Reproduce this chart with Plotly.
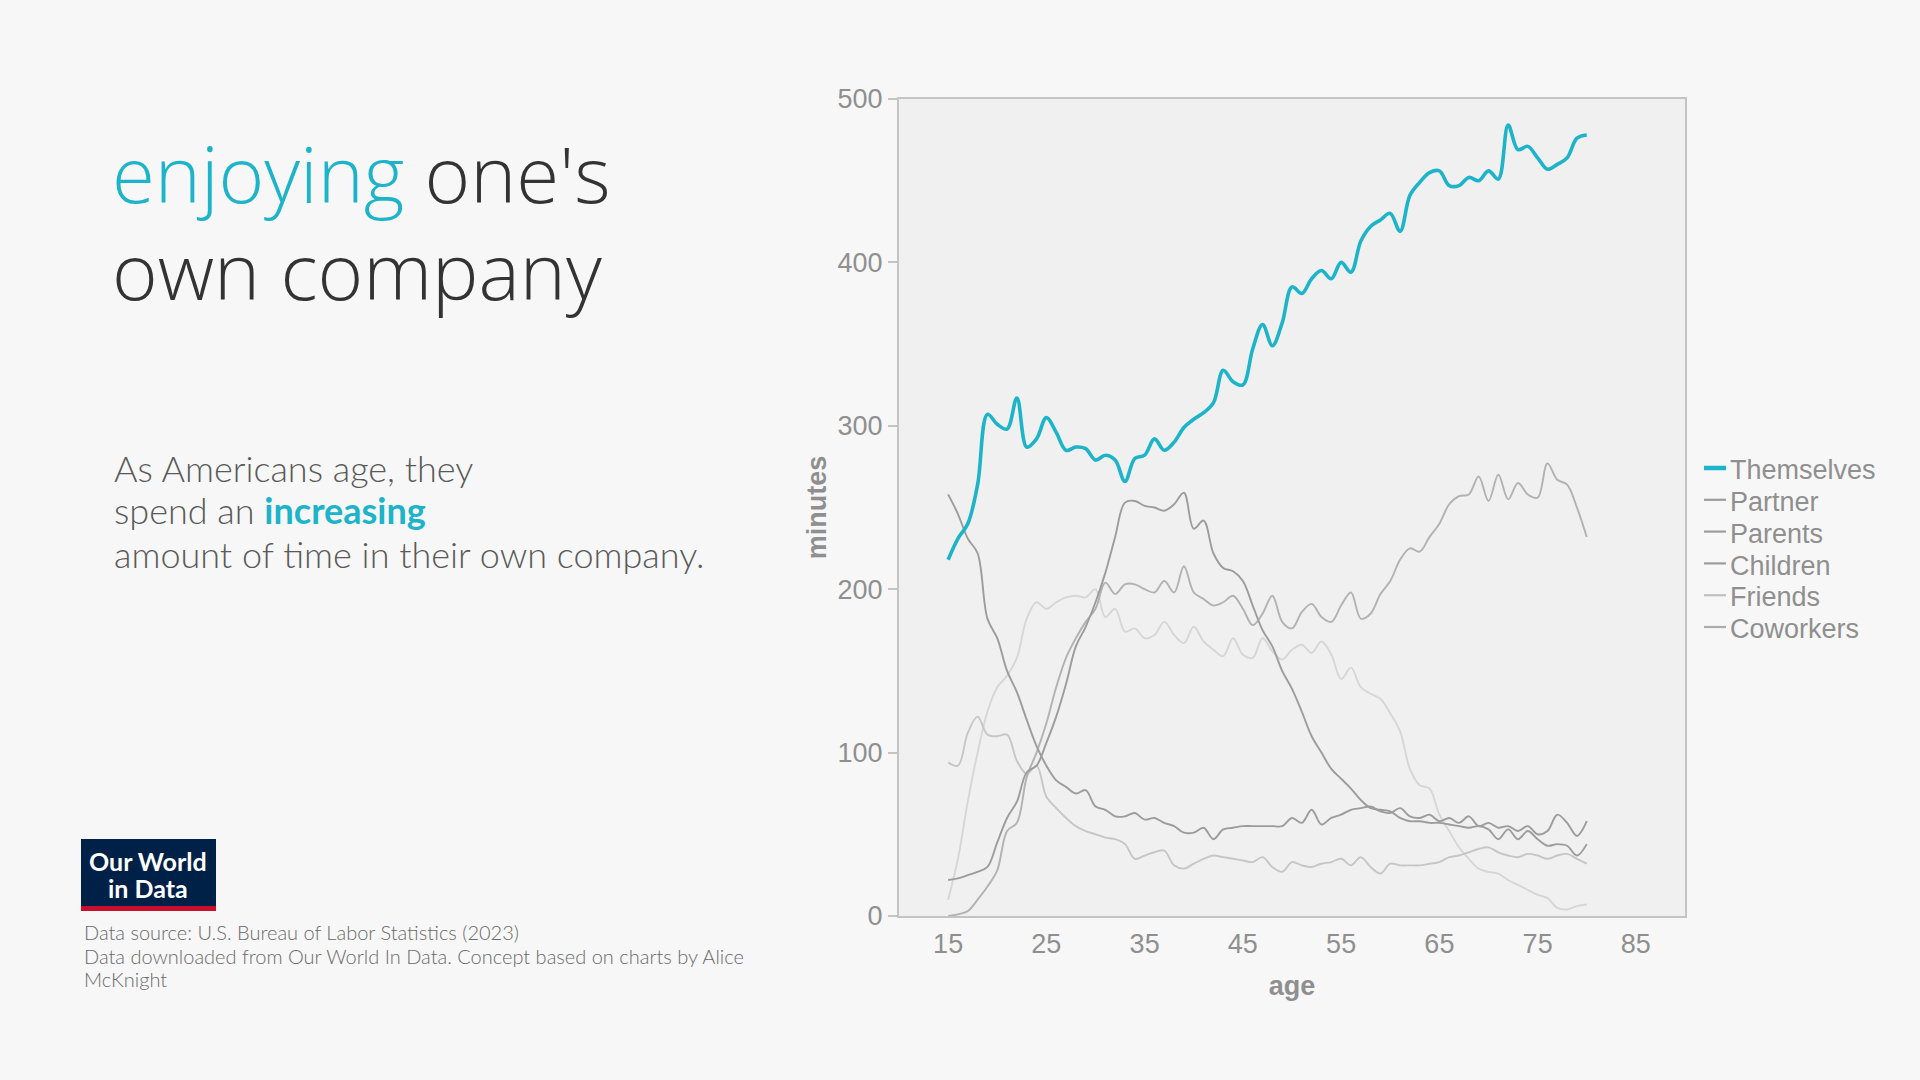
import plotly.graph_objects as go

# ---------------- data ----------------
ages = list(range(15, 81))

themselves = [218, 231, 240, 264, 307, 301, 298, 317, 287, 292,
              305, 296, 285, 287, 286, 279, 282, 279, 266, 280,
              282, 292, 285, 290, 299, 304, 308, 314, 334, 327,
              325, 347, 362, 349, 363, 385, 381, 390, 395, 390,
              400, 394, 413, 422, 426, 430, 419, 441, 449, 455,
              456, 447, 447, 452, 450, 456, 451, 484, 469, 471,
              464, 457, 460, 464, 476, 478]

partner = [0, 1, 3, 10, 18, 28, 52, 57, 85, 100,
           118, 140, 158, 170, 180, 188, 204, 197, 203, 203,
           200, 198, 205, 198, 214, 198, 194, 190, 192, 196,
           188, 178, 185, 196, 180, 176, 186, 191, 183, 180,
           190, 198, 182, 185, 197, 205, 218, 225, 223, 232,
           240, 252, 257, 258, 269, 254, 270, 255, 265, 258,
           256, 277, 267, 264, 250, 232]

parents = [258, 246, 231, 222, 182, 170, 150, 137, 120, 104,
           92, 83, 79, 75, 77, 67, 65, 61, 61, 63,
           59, 60, 57, 55, 51, 51, 54, 47, 53, 54,
           55, 55, 55, 55, 55, 60, 57, 65, 56, 60,
           62, 65, 66, 67, 64, 63, 66, 61, 60, 62,
           58, 60, 57, 61, 55, 57, 54, 55, 52, 55,
           50, 52, 62, 57, 49, 58]

children = [22, 23, 25, 27, 30, 45, 60, 70, 88, 92,
            106, 122, 142, 165, 177, 192, 210, 232, 253, 254,
            251, 250, 248, 252, 259, 237, 242, 222, 213, 211,
            205, 190, 175, 165, 150, 139, 125, 110, 100, 90,
            84, 78, 71, 66, 65, 64, 60, 58, 58, 57,
            57, 56, 55, 54, 55, 53, 47, 53, 47, 52,
            47, 43, 44, 43, 37, 44]

friends = [94, 92, 112, 122, 111, 110, 111, 95, 87, 92,
           73, 66, 60, 55, 52, 50, 48, 47, 44, 35,
           37, 39, 40, 31, 29, 32, 35, 37, 36, 35,
           34, 33, 36, 30, 27, 33, 31, 30, 32, 33,
           35, 31, 36, 30, 26, 32, 31, 31, 31, 32,
           33, 36, 37, 39, 41, 42, 39, 37, 36, 38,
           37, 35, 37, 38, 35, 32]

coworkers = [10, 35, 70, 100, 125, 140, 147, 158, 182, 192,
             188, 192, 195, 196, 195, 200, 183, 188, 174, 176,
             170, 172, 180, 172, 167, 177, 168, 163, 159, 170,
             160, 158, 170, 162, 157, 163, 166, 161, 168, 160,
             145, 152, 140, 136, 133, 124, 113, 90, 80, 78,
             62, 52, 42, 35, 29, 27, 26, 22, 19, 16,
             13, 11, 5, 4, 6, 7]

x_ticks = [15, 25, 35, 45, 55, 65, 75, 85]
y_ticks = [0, 100, 200, 300, 400, 500]

series_names = ["Themselves", "Partner", "Parents", "Children", "Friends", "Coworkers"]

# ---------------- style ----------------
TEAL = "#1db4c9"
W, H = 1920, 1080
ML, MR, MT, MB = 899, 235, 99, 164
PW, PH = W - ML - MR, H - MT - MB


def fx(px):
    return (px - ML) / PW


def fy(py):
    return (H - MB - py) / PH


gray_styles = {
    "Partner": ("#b2b2b2", partner),
    "Parents": ("#9c9c9c", parents),
    "Children": ("#9c9c9c", children),
    "Friends": ("#c6c6c6", friends),
    "Coworkers": ("#d6d6d6", coworkers),
}

fig = go.Figure()
for name in ["Coworkers", "Friends", "Partner", "Children", "Parents"]:
    col, vals = gray_styles[name]
    fig.add_trace(go.Scatter(x=ages, y=vals, mode="lines", name=name,
                             line=dict(color=col, width=1.9, shape="spline", smoothing=1.0),
                             showlegend=False))
fig.add_trace(go.Scatter(x=ages, y=themselves, mode="lines", name="Themselves",
                         line=dict(color=TEAL, width=3.6, shape="spline", smoothing=1.0),
                         showlegend=False))

AXFONT = "Liberation Sans, Arial, sans-serif"
AXCOL = "#8f8f8f"
axis_common = dict(showgrid=False, zeroline=False, showline=True, linecolor="#c4c4c4",
                   linewidth=2, mirror=True,
                   tickfont=dict(family=AXFONT, size=27, color=AXCOL))

fig.update_xaxes(range=[10, 90], tickvals=x_ticks, ticks="outside", ticklen=3,
                 tickcolor="rgba(0,0,0,0)",
                 title=dict(text="<b>age</b>", font=dict(family=AXFONT, size=27, color=AXCOL),
                            standoff=18),
                 **axis_common)
fig.update_yaxes(range=[0, 500], tickvals=y_ticks, ticks="outside", ticklen=9, tickwidth=2,
                 tickcolor="#c4c4c4",
                 title=dict(text="<b>minutes</b>", font=dict(family=AXFONT, size=27, color=AXCOL),
                            standoff=3),
                 **axis_common)

annotations = []
shapes = []


def ann(text, px, py_top, size, color, family, xanchor="left", weight=None):
    font = dict(family=family, size=size, color=color)
    if weight is not None:
        font["weight"] = weight
    annotations.append(dict(text=text, x=fx(px), y=fy(py_top), xref="paper", yref="paper",
                            xanchor=xanchor, yanchor="top", showarrow=False, align="left",
                            font=font))


# title
TFONT = "Open Sans, sans-serif"
ann(f"<span style='color:{TEAL}'>enjoying</span> one's", 110, 118, 78, "#333333", TFONT, weight=300)
ann("own company", 110, 215, 78, "#333333", TFONT, weight=300)

# subtitle
SFONT = "Lato, sans-serif"
ann("As Americans age, they", 112, 444, 36, "#5a5a5a", SFONT, weight=300)
ann(f"spend an <span style='color:{TEAL}'><b>increasing</b></span>", 112, 486, 36, "#5a5a5a", SFONT, weight=300)
ann("amount of time in their own company.", 112, 530, 36, "#5a5a5a", SFONT, weight=300)

# source
ann("Data source: U.S. Bureau of Labor Statistics (2023)", 82, 918, 20, "#6a6a6a", SFONT, weight=300)
ann("Data downloaded from Our World In Data. Concept based on charts by Alice", 82, 942, 20, "#6a6a6a", SFONT, weight=300)
ann("McKnight", 82, 965, 20, "#6a6a6a", SFONT, weight=300)

# logo
shapes.append(dict(type="rect", xref="paper", yref="paper", x0=fx(81), x1=fx(216),
                   y0=fy(911), y1=fy(839), fillcolor="#002147", line=dict(width=0), layer="above"))
shapes.append(dict(type="rect", xref="paper", yref="paper", x0=fx(81), x1=fx(216),
                   y0=fy(911), y1=fy(906), fillcolor="#c8102e", line=dict(width=0), layer="above"))
ann("<b>Our World</b>", 148, 844, 25, "#ffffff", SFONT, xanchor="center")
ann("<b>in Data</b>", 148, 871, 25, "#ffffff", SFONT, xanchor="center")

# legend (manual)
leg_colors = [TEAL, "#9c9c9c", "#9c9c9c", "#9c9c9c", "#c0c0c0", "#acacac"]
leg_widths = [4.5, 2.2, 2.2, 2.2, 2.2, 2.2]
for i, name in enumerate(series_names):
    base = 478.5 + 31.8 * i
    shapes.append(dict(type="line", xref="paper", yref="paper", x0=fx(1704), x1=fx(1726),
                       y0=fy(base - 10.5), y1=fy(base - 10.5),
                       line=dict(color=leg_colors[i], width=leg_widths[i])))
    ann(name, 1728, base - 25.4, 27, AXCOL, AXFONT)

fig.update_layout(width=W, height=H, margin=dict(l=ML, r=MR, t=MT, b=MB, pad=0),
                  paper_bgcolor="#f7f7f7", plot_bgcolor="#f0f0f0",
                  annotations=annotations, shapes=shapes, showlegend=False)

fig.write_html("out.html")
